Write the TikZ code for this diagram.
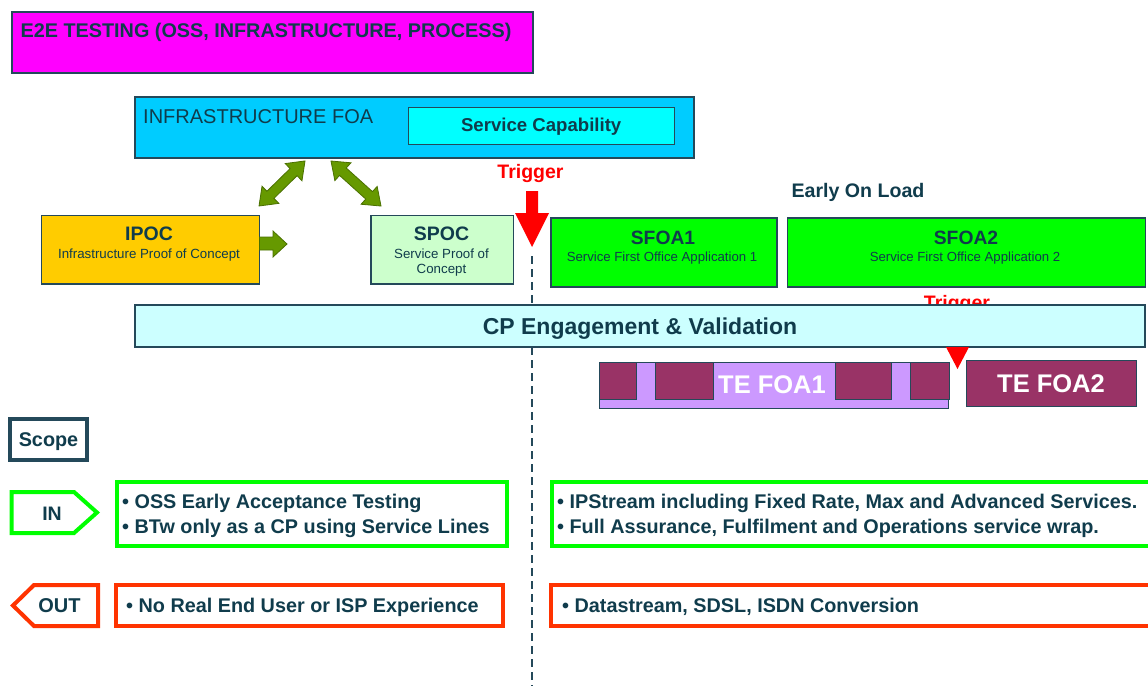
\documentclass[tikz,border=0pt]{standalone}
\usepackage{fontspec}
\setmainfont{Liberation Sans}
\definecolor{tc}{HTML}{103C4C}
\definecolor{bc}{HTML}{24495A}
\definecolor{mag}{HTML}{FF00FF}
\definecolor{infrac}{HTML}{00CCFF}
\definecolor{svcc}{HTML}{00FFFF}
\definecolor{garr}{HTML}{669900}
\definecolor{garrd}{HTML}{4A7000}
\definecolor{ipocc}{HTML}{FFCC00}
\definecolor{spocc}{HTML}{CCFFCC}
\definecolor{sfoac}{HTML}{00FF00}
\definecolor{cpc}{HTML}{CCFFFF}
\definecolor{tel}{HTML}{CC99FF}
\definecolor{ted}{HTML}{993366}
\definecolor{ingreen}{HTML}{00FF00}
\definecolor{outred}{HTML}{FF3300}
\begin{document}
\begin{tikzpicture}[x=1pt,y=-1pt,
  box/.style={draw=bc, line width=1.2pt, inner sep=0pt, outer sep=0pt, anchor=north west},
  lbl/.style={text=tc, inner sep=0pt, anchor=base},
  lblw/.style={lbl, anchor=base west},
  rg/.style={font=\fontsize{#1}{#1}\selectfont},
  bd/.style={font=\fontsize{#1}{#1}\selectfont\bfseries},
  garrow/.style={fill=garr, draw=garrd, line width=0.8pt, line join=miter},
  inline/.style={draw=ingreen, line width=4pt, line join=miter},
  outline/.style={draw=outred, line width=4pt, line join=miter}
]
\fill[white] (0,0) rectangle (1148,686);
\useasboundingbox (0,0) rectangle (1148,686);

% dashed divider
\coordinate (dtop) at (532,256);
\coordinate (dbot) at (532,686);
\draw[dash pattern=on 8pt off 5pt, line width=1.2pt, draw=bc] (dtop) -- (dbot);

% E2E
\node[box, fill=mag, minimum width=521, minimum height=61] (e2e) at (12,12) {};
\node[lblw, bd=19.8] (e2et) at (20.5,37) {E2E TESTING (OSS, INFRASTRUCTURE, PROCESS)};

% Infrastructure FOA
\node[box, fill=infrac, minimum width=559, minimum height=61] (infra) at (135,97) {};
\node[lblw, rg=20] (infrat) at (143,123.2) {INFRASTRUCTURE FOA};
\node[box, fill=svcc, line width=1pt, minimum width=266, minimum height=37] (svc) at (408.5,107) {};
\node[lbl, bd=18.6] (svct) at (541.2,131.7) {Service Capability};

% green double arrows
\coordinate (ga1) at (259,206);
\coordinate (ga2) at (331,161);
\begin{scope}[shift={(ga1)}, rotate=44.4]
\filldraw[garrow] (0,0) -- (16,12) -- (16,5) -- (48.4,5) -- (48.4,12) -- (64.4,0) -- (48.4,-12) -- (48.4,-5) -- (16,-5) -- (16,-12) -- cycle;
\end{scope}
\begin{scope}[shift={(ga2)}, rotate=-42]
\filldraw[garrow] (0,0) -- (16,12) -- (16,5) -- (51.3,5) -- (51.3,12) -- (67.3,0) -- (51.3,-12) -- (51.3,-5) -- (16,-5) -- (16,-12) -- cycle;
\end{scope}

% IPOC
\node[box, fill=ipocc, minimum width=218, minimum height=68.5] (ipoc) at (41.5,215.5) {};
\node[lbl, bd=19.5] (ipoct) at (149,240.8) {IPOC};
\node[lbl, rg=13.3] (ipocs) at (149,258.8) {Infrastructure Proof of Concept};
\filldraw[garrow] (ipoc.east |- 0,237) -- (273,237) -- (273,231) -- (287,244) -- (273,257) -- (273,250) -- (ipoc.east |- 0,250) -- cycle;

% SPOC
\node[box, fill=spocc, minimum width=142.5, minimum height=68.5] (spoc) at (371,215.5) {};
\node[lbl, bd=19.5] (spoct) at (441.5,240.8) {SPOC};
\node[lbl, rg=13.3] (spocs1) at (441.5,258.8) {Service Proof of};
\node[lbl, rg=13.3] (spocs2) at (441.5,273.8) {Concept};

% Trigger 1
\node[lbl, bd=19.5, text=red] (trig1) at (530.5,178) {Trigger};
\fill[red] (526,191) -- (538,191) -- (538,213) -- (549,213) -- (532,247) -- (515,213) -- (526,213) -- cycle;

% Early on load
\node[lbl, bd=19.6] (eol) at (858,197.3) {Early On Load};

% SFOA
\node[box, fill=sfoac, minimum width=226, minimum height=69] (sfoa1) at (551,218) {};
\node[lbl, bd=19.3] (sfoa1t) at (663,244.5) {SFOA1};
\node[lbl, rg=13.2] (sfoa1s) at (662,261.8) {Service First Office Application 1};
\node[box, fill=sfoac, minimum width=358, minimum height=69] (sfoa2) at (787.5,218) {};
\node[lbl, bd=19.3] (sfoa2t) at (966,244.5) {SFOA2};
\node[lbl, rg=13.2] (sfoa2s) at (965,261.8) {Service First Office Application 2};

% Trigger 2 (partly hidden)
\node[lbl, bd=19.5, text=red] (trig2) at (957,309) {Trigger};

% CP bar
\node[box, fill=cpc, minimum width=1010, minimum height=42] (cp) at (135,305) {};
\node[lbl, bd=23] (cpt) at (640,334.2) {CP Engagement \& Validation};

% red triangle
\fill[red] (946,347) -- (969,347) -- (957.5,369) -- cycle;

% TE FOA1
\node[box, fill=tel, line width=1pt, minimum width=349, minimum height=46] (te1) at (599,362) {};
\node[box, fill=ted, line width=1pt, minimum width=37, minimum height=37] (b1) at (599,362) {};
\node[box, fill=ted, line width=1pt, minimum width=58, minimum height=37] (b2) at (655,362) {};
\node[box, fill=ted, line width=1pt, minimum width=56, minimum height=37] (b3) at (835,362) {};
\node[box, fill=ted, line width=1pt, minimum width=39, minimum height=37] (b4) at (910,362) {};
\node[lbl, bd=25.5, text=white] (te1t) at (772,393) {TE FOA1};
% TE FOA2
\node[box, fill=ted, line width=1pt, minimum width=170, minimum height=45.5] (te2) at (966.5,360.5) {};
\node[lbl, bd=25.5, text=white] (te2t) at (1051,392) {TE FOA2};

% Scope
\node[box, line width=4pt, minimum width=77, minimum height=41] (scope) at (9.6,418.7) {};
\node[lbl, bd=19.8] (scopet) at (48.5,446) {Scope};

% IN
\draw[inline] (11.6,492) -- (74,492) -- (97,512.5) -- (74,533) -- (11.6,533) -- cycle;
\node[lbl, bd=19.5] (int) at (52,520) {IN};
\draw[inline] (116.7,482) rectangle (507,545.7);
\node[lblw, bd=19.8] (in1) at (122,508.5) {• OSS Early Acceptance Testing};
\node[lblw, bd=19.8] (in2) at (122,533.5) {• BTw only as a CP using Service Lines};
\draw[inline] (551.7,482) rectangle (1160,545.7);
\node[lblw, bd=19.8] (in3) at (557,508.5) {• IPStream including Fixed Rate, Max and Advanced Services.};
\node[lblw, bd=19.8] (in4) at (557,533.5) {• Full Assurance, Fulfilment and Operations service wrap.};

% OUT
\draw[outline] (98,585) -- (34,585) -- (13,605.5) -- (34,626) -- (98,626) -- cycle;
\node[lbl, bd=20] (outt) at (59.5,612.9) {OUT};
\draw[outline] (116,585) rectangle (503,626);
\node[lblw, bd=19.8] (out1) at (126,612.7) {• No Real End User or ISP Experience};
\draw[outline] (550.5,585) rectangle (1160,626);
\node[lblw, bd=19.8] (out2) at (562,612.7) {• Datastream, SDSL, ISDN Conversion};
\end{tikzpicture}
\end{document}
